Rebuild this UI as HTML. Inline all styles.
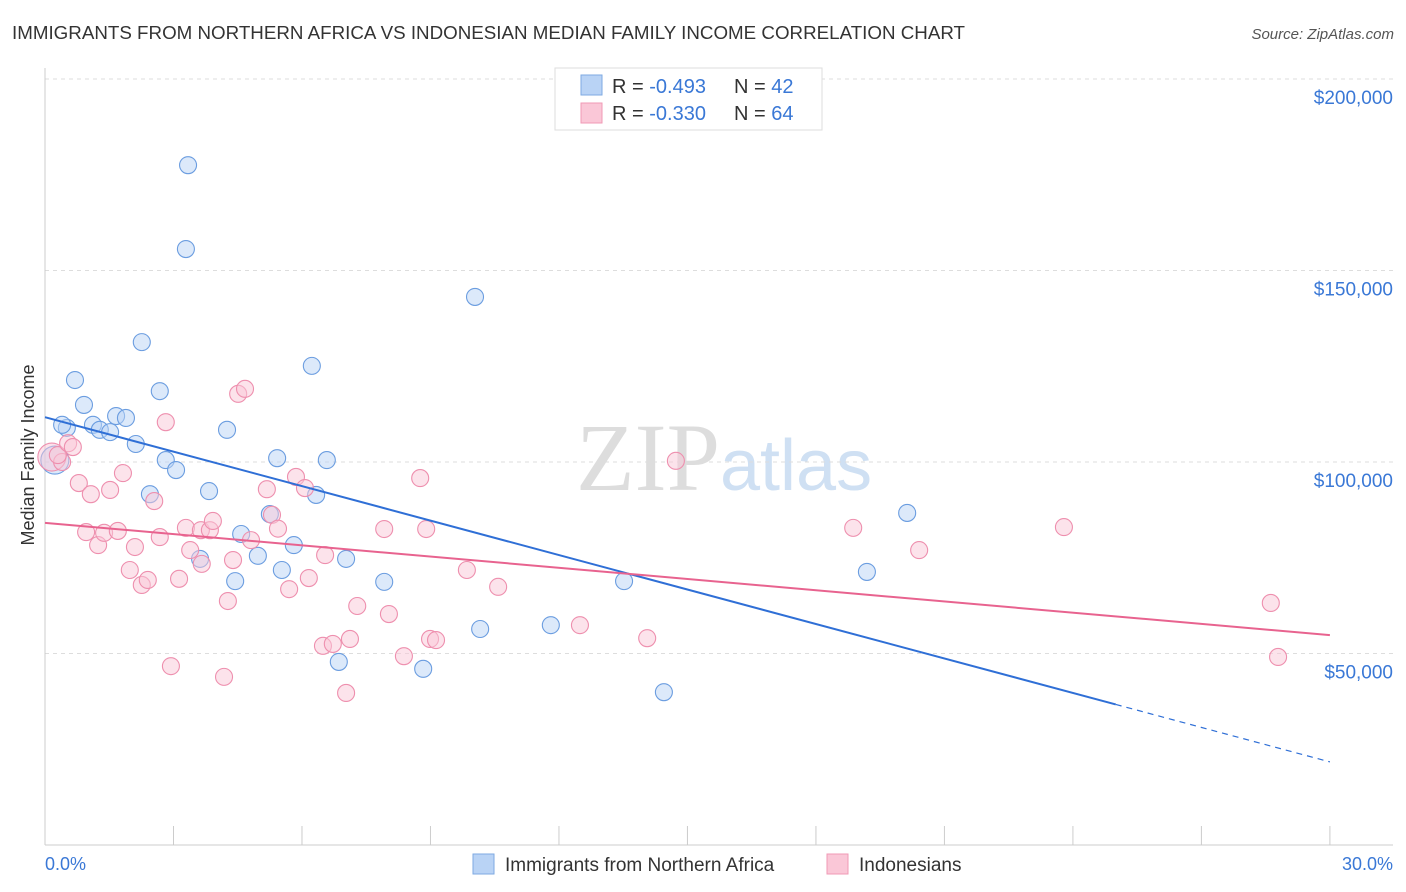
<!DOCTYPE html>
<html><head><meta charset="utf-8"><style>
body{margin:0;background:#fff;font-family:"Liberation Sans",sans-serif;}
svg{display:block}
</style></head><body>
<svg id="c" width="1406" height="892" xmlns="http://www.w3.org/2000/svg">
<text x="12" y="39" font-size="18" fill="#333" textLength="953" lengthAdjust="spacingAndGlyphs">IMMIGRANTS FROM NORTHERN AFRICA VS INDONESIAN MEDIAN FAMILY INCOME CORRELATION CHART</text>
<text x="1394" y="39" font-size="15" fill="#555" font-style="italic" text-anchor="end">Source: ZipAtlas.com</text>
<text x="720" y="490" font-size="96" fill="#ddd" font-family="Liberation Serif,serif" text-anchor="end">ZIP</text>
<text x="720" y="490" font-size="72" fill="#cfe0f3" text-anchor="start">atlas</text>
<g id="grid"></g><g id="pts"></g><g id="lines"></g>
<text transform="translate(34,455) rotate(-90)" font-size="18" fill="#333" text-anchor="middle">Median Family Income</text>
<text x="45" y="870" font-size="18" fill="#3a78d6">0.0%</text>
<text x="1393" y="870" font-size="18" fill="#3a78d6" text-anchor="end">30.0%</text>
<g>
<rect x="555" y="68" width="267" height="62" fill="#fff" stroke="#ddd"/>
<rect x="581" y="75" width="21" height="20" fill="#b9d3f5" stroke="#7ea9e2"/>
<rect x="581" y="103" width="21" height="20" fill="#fac7d7" stroke="#f09ab5"/>
<text x="612" y="93" font-size="20" fill="#333">R = <tspan fill="#3a78d6">-0.493</tspan></text>
<text x="734" y="93" font-size="20" fill="#333">N = <tspan fill="#3a78d6">42</tspan></text>
<text x="612" y="120" font-size="20" fill="#333">R = <tspan fill="#3a78d6">-0.330</tspan></text>
<text x="734" y="120" font-size="20" fill="#333">N = <tspan fill="#3a78d6">64</tspan></text>
</g>
<g>
<rect x="473" y="854" width="21" height="20" fill="#b9d3f5" stroke="#7ea9e2"/>
<text x="505" y="871" font-size="19" fill="#333">Immigrants from Northern Africa</text>
<rect x="827" y="854" width="21" height="20" fill="#fac7d7" stroke="#f09ab5"/>
<text x="859" y="871" font-size="19" fill="#333">Indonesians</text>
</g>
</svg>
<script>
const yTicks=[50000,100000,150000,200000];
const yTickLabels=["$50,000","$100,000","$150,000","$200,000"];
const xTicks=[0,3,6,9,12,15,18,21,24,27,30];
const blueX=[0.23,0.51,0.7,0.91,1.12,1.28,1.52,1.66,1.89,2.12,2.26,2.68,2.82,3.06,2.45,3.34,3.29,3.83,4.25,4.58,4.44,3.62,4.97,5.25,5.42,5.53,5.81,6.23,6.33,6.58,6.86,7.03,7.92,8.83,10.04,10.16,11.81,13.52,14.45,19.19,20.13,0.4];
const blueY=[100.5,108.9,121.4,114.9,109.7,108.4,107.8,112.0,111.5,104.7,131.3,118.5,100.5,97.9,91.6,177.5,155.6,92.4,108.4,81.2,68.9,74.7,75.5,86.4,101.0,71.8,78.3,125.1,91.4,100.5,47.8,74.7,68.7,46.0,143.1,56.4,57.4,68.9,39.9,71.3,86.7,109.7];
const pinkX=[0.16,0.4,0.3,0.54,0.65,0.79,0.96,1.07,1.24,1.38,1.52,1.7,1.82,1.98,2.1,2.26,2.4,2.55,2.68,2.82,2.94,3.13,3.29,3.39,3.64,3.66,3.85,3.92,4.27,4.39,4.51,4.67,4.81,5.18,5.3,5.44,5.7,5.86,6.07,6.16,6.49,6.54,6.72,7.03,7.12,7.29,7.92,8.03,8.38,8.76,8.9,8.99,9.13,9.85,10.58,12.49,14.06,14.73,18.87,20.41,23.79,28.62,28.79,4.18];
const pinkY=[101.3,100.0,101.8,104.9,103.9,94.5,81.7,91.6,78.3,81.5,92.7,82.0,97.1,71.8,77.8,67.9,69.2,89.8,80.4,110.4,46.7,69.5,82.8,77.0,82.2,73.4,82.2,84.6,63.7,74.4,117.8,119.1,79.6,92.9,86.2,82.6,66.8,96.1,93.2,69.7,52.0,75.7,52.5,39.7,53.8,62.4,82.5,60.3,49.3,95.8,82.5,53.8,53.5,71.8,67.4,57.4,54.0,100.3,82.8,77.0,83.0,63.2,49.1,43.9];
const blueBig=[0];const pinkBig=[0];
const blueLine=[111.7,21.7],pinkLine=[84.1,54.8];
const X=v=>45+v*42.83, Y=k=>845-k*3.83;
const NS="http://www.w3.org/2000/svg";
function mk(p,t,a){const e=document.createElementNS(NS,t);for(const k in a)e.setAttribute(k,a[k]);p.appendChild(e);return e;}
const grid=document.getElementById('grid');
yTicks.forEach((v,i)=>{const g=mk(grid,'line',{x1:45,x2:1393,y1:Y(v/1000),y2:Y(v/1000),stroke:'#ddd','stroke-dasharray':'4,4'});


const t=mk(grid,'text',{x:1393,y:Y(v/1000)+25,'font-size':19,fill:'#3a78d6','text-anchor':'end'});t.textContent=yTickLabels[i];

});
const ax=mk(grid,'line',{x1:45,x2:1393,y1:845,y2:845,stroke:'#ccc'});


const ay=mk(grid,'line',{x1:45,x2:45,y1:68,y2:845,stroke:'#ccc'});


xTicks.forEach(v=>{const t=mk(grid,'line',{x1:X(v),x2:X(v),y1:826,y2:845,stroke:'#ccc'});

});
const pts=document.getElementById('pts');
function draw(xs,ys,big,fill,stroke,name){xs.forEach((x,i)=>{const c=mk(pts,'circle',{cx:X(x),cy:Y(ys[i]),r:big.includes(i)?14:8.5,fill:fill,'fill-opacity':0.5,stroke:stroke,'stroke-width':1.1});

});}
draw(blueX,blueY,blueBig,'#b9d3f5','#6b9de0','point-immigrants');
draw(pinkX,pinkY,pinkBig,'#fac7d7','#ee8fae','point-indonesians');
const L=document.getElementById('lines');
const f=(a,x)=>a[0]+(a[1]-a[0])*x/30;
const b1=mk(L,'line',{x1:X(0),y1:Y(f(blueLine,0)),x2:X(25),y2:Y(f(blueLine,25)),stroke:'#2f6fd6','stroke-width':2});


const b2=mk(L,'line',{x1:X(25),y1:Y(f(blueLine,25)),x2:X(30),y2:Y(f(blueLine,30)),stroke:'#2f6fd6','stroke-width':1.2,'stroke-dasharray':'6,5'});


const p1=mk(L,'line',{x1:X(0),y1:Y(pinkLine[0]),x2:X(30),y2:Y(pinkLine[1]),stroke:'#e8638f','stroke-width':2});


</script>
</body></html>
